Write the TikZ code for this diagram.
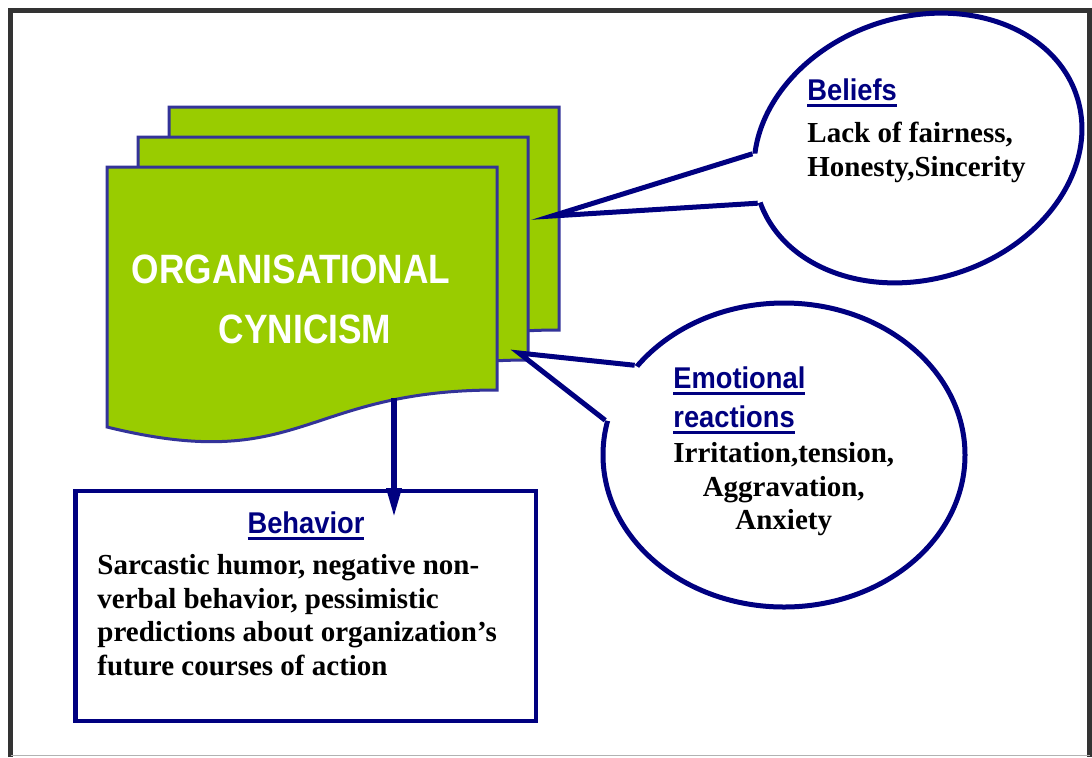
\documentclass[tikz,border=0pt]{standalone}
\usepackage{fontspec}
\setmainfont{Liberation Serif}
\newfontfamily\headfont[FakeStretch=0.91]{Liberation Sans}
\newfontfamily\titlefont[FakeStretch=0.86]{Liberation Sans}
\usetikzlibrary{shapes.geometric,arrows.meta,positioning}

\definecolor{docgreen}{HTML}{99CC00}
\definecolor{docedge}{HTML}{333399}
\definecolor{navy}{HTML}{000080}
\definecolor{framegray}{HTML}{333333}

% underlined heading, rule sits a little under the baseline
\newcommand{\ulhead}[1]{\setbox0=\hbox{#1}\rlap{\rule[-3.5pt]{\wd0}{1.6pt}}\box0}

\begin{document}
\begin{tikzpicture}[x=0.5pt, y=-0.5pt, >={Triangle[length=15pt,width=7pt]}]
  % Styles
  \tikzset{
    page/.style={draw=docedge, fill=docgreen, line width=1.5pt},
    bubble/.style={ellipse, draw=navy, fill=white, line width=2.5pt, inner sep=0pt},
    tail/.style={draw=navy, line width=2.5pt},
    box/.style={rectangle, draw=navy, line width=2.25pt, inner sep=0pt},
    heading/.style={inner sep=0pt, text=navy, font=\headfont\bfseries\fontsize{15}{18}\selectfont},
    bodytext/.style={inner sep=0pt, font=\bfseries\fontsize{14.5}{16.8}\selectfont},
    title/.style={inner sep=0pt, text=white, font=\titlefont\bfseries\fontsize{20.5}{24}\selectfont},
    flow/.style={->, draw=navy, line width=3pt}
  }
  \useasboundingbox (0,0) rectangle (1092,757);

  % Frame
  \draw[framegray, line width=2.25pt] (10.5,757) -- (10.5,10.5) -- (1089.5,10.5) -- (1089.5,757);
  \draw[gray!60, line width=0.75pt] (10.5,755.5) -- (1089.5,755.5);

  % Stacked documents, back to front
  \foreach \s in {2,1,0}
    \draw[page, shift={(31*\s,-30*\s)}] (107,167) -- (497,167) -- (497,390)
      .. controls (302,390) and (302,475) .. (107,427) -- cycle;
  \node[title, anchor=base] (org) at (291,283) {ORGANISATIONAL};
  \node[title, anchor=base] (cyn) at (305,343) {CYNICISM};

  % Behavior box
  \node[box, minimum width=230.25pt, minimum height=115pt] (behavior) at (305.75,606) {};
  \node[heading, anchor=base] (behead) at (306,533) {\ulhead{Behavior}};
  \node[bodytext, align=left, anchor=north west] (bebody) at (97,554)
    {Sarcastic humor, negative non-\\verbal behavior, pessimistic\\predictions about organization’s\\future courses of action};

  \coordinate (docfoot) at (394,398);
  \coordinate (arrowtip) at (394,518);
  \draw[flow] (docfoot) -- (arrowtip);

  % Beliefs callout
  \node[bubble, rotate=18, minimum width=167pt, minimum height=131pt] (beliefs) at (918,148) {};
  \coordinate (beliefs tip) at (552,216);
  \fill[white] (beliefs.164) -- (beliefs tip) -- (beliefs.181) -- (beliefs.center) -- cycle;
  \draw[tail] (beliefs.164) -- (beliefs tip) -- (beliefs.181);
  \node[heading, anchor=base west] (bhead) at (807,100) {\ulhead{Beliefs}};
  \node[bodytext, align=left, below=11pt of bhead.base west, anchor=north west] (bbody)
    {Lack of fairness,\\Honesty,Sincerity};

  % Emotional reactions callout
  \node[bubble, minimum width=181pt, minimum height=152pt] (emotions) at (784,455) {};
  \coordinate (emotions tip) at (519,353);
  \fill[white] (emotions.149) -- (emotions tip) -- (emotions.169) -- (emotions.center) -- cycle;
  \draw[tail] (emotions.149) -- (emotions tip) -- (emotions.169);
  \node[heading, anchor=base west] (ehead) at (673,388) {\ulhead{Emotional}};
  \node[heading, below=19.5pt of ehead.base west, anchor=base west] (ehead2) {\ulhead{reactions}};
  \node[bodytext, align=center, below=7.5pt of ehead2.base west, anchor=north west] (ebody)
    {Irritation,tension,\\Aggravation,\\Anxiety};
\end{tikzpicture}
\end{document}
